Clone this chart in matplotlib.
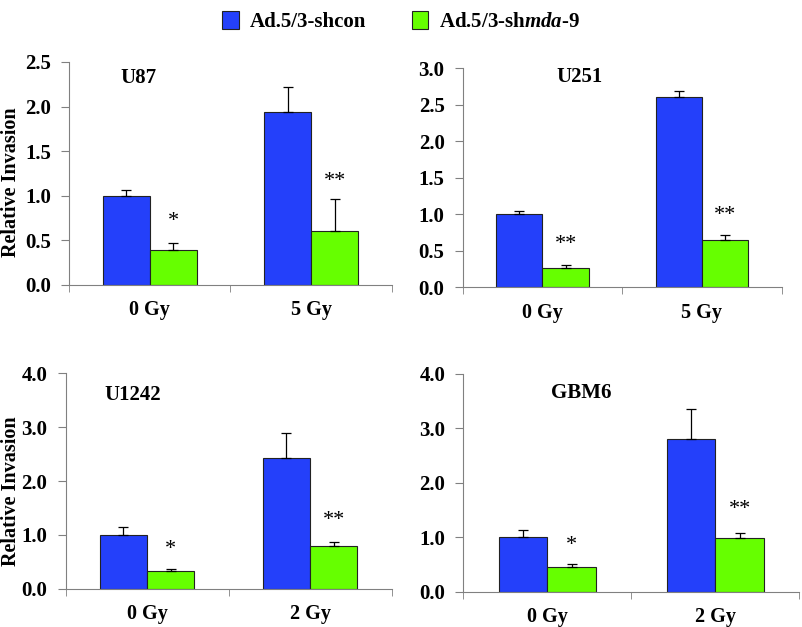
import matplotlib
matplotlib.use('Agg')
import matplotlib.pyplot as plt
import numpy as np

plt.rcParams['font.family'] = 'Liberation Serif'
plt.rcParams['font.weight'] = 'bold'
plt.rcParams['axes.labelweight'] = 'bold'
plt.rcParams['mathtext.fontset'] = 'custom'
plt.rcParams['mathtext.it'] = 'Liberation Serif:bold:italic'
plt.rcParams['mathtext.rm'] = 'Liberation Serif:bold'

# data
cell_lines = ['U87', 'U251', 'U1242', 'GBM6']
doses = [['0 Gy', '5 Gy'], ['0 Gy', '5 Gy'], ['0 Gy', '2 Gy'], ['0 Gy', '2 Gy']]
shcon = [[1.00, 1.94], [1.00, 2.60], [1.00, 2.43], [1.00, 2.81]]
shcon_err = [[0.07, 0.28], [0.05, 0.09], [0.14, 0.46], [0.13, 0.54]]
shmda9 = [[0.39, 0.60], [0.27, 0.65], [0.33, 0.79], [0.45, 0.98]]
shmda9_err = [[0.08, 0.36], [0.04, 0.06], [0.04, 0.07], [0.05, 0.09]]
stars = [['*', '**'], ['**', '**'], ['*', '**'], ['*', '**']]
star_y = [[0.71, 1.16], [0.58, 0.98], [0.72, 1.26], [0.84, 1.50]]
ylims = [2.5, 3.0, 4.0, 4.0]
ystep = [0.5, 0.5, 1.0, 1.0]
title_y = [2.32, 2.88, 3.6, 3.64]
title_x = [-0.07, 0.235, -0.086, 0.20]

blue = '#2440FA'
green = '#66FF00'

fig = plt.figure(figsize=(8.02, 6.27), dpi=100)
positions = [[0.0860, 0.5455, 0.4028, 0.3557],
             [0.5769, 0.5418, 0.3978, 0.3493],
             [0.0817, 0.0611, 0.4065, 0.3434],
             [0.5777, 0.0563, 0.4190, 0.3477]]
label_xy = [(-0.150, 0.46), None, (-0.138, 0.455), None]

w = 0.29
handles = None
for i, pos in enumerate(positions):
    ax = fig.add_axes(pos)
    x = np.arange(2)
    b1 = ax.bar(x - w / 2, shcon[i], w, color=blue, edgecolor='#222222', linewidth=0.8,
                yerr=[[0, 0], shcon_err[i]], capsize=3.5,
                error_kw=dict(elinewidth=0.9, capthick=0.9, ecolor='black'))
    b2 = ax.bar(x + w / 2, shmda9[i], w, color=green, edgecolor='#222222', linewidth=0.8,
                yerr=[[0, 0], shmda9_err[i]], capsize=3.5,
                error_kw=dict(elinewidth=0.9, capthick=0.9, ecolor='black'))
    handles = [b1, b2]
    for j in range(2):
        ax.text(x[j] + w / 2, star_y[i][j], stars[i][j], ha='center', va='center',
                fontsize=16, fontweight='normal')
    ax.text(title_x[i], title_y[i], cell_lines[i], ha='center', va='center', fontsize=15)
    ax.set_xlim(-0.5, 1.5)
    ax.set_ylim(0, ylims[i])
    ax.set_yticks(np.arange(0, ylims[i] + 0.01, ystep[i]))
    ax.yaxis.set_major_formatter(matplotlib.ticker.FormatStrFormatter('%.1f'))
    ax.set_xticks(x)
    ax.set_xticklabels(doses[i])
    ax.set_xticks([-0.5, 0.5, 1.5], minor=True)
    ax.tick_params(axis='x', which='major', length=0, pad=11, labelsize=14.5)
    ax.tick_params(axis='x', which='minor', length=5, color='#808080', direction='out')
    ax.tick_params(axis='y', length=6, color='#808080', pad=7, labelsize=15)
    for s in ['top', 'right']:
        ax.spines[s].set_visible(False)
    for s in ['left', 'bottom']:
        ax.spines[s].set_color('#808080')
    if label_xy[i] is not None:
        ax.set_ylabel('Relative Invasion', fontsize=14.5)
        ax.yaxis.set_label_coords(*label_xy[i])

fig.legend(handles, ['Ad.5/3-shcon', r'Ad.5/3-sh$\mathit{mda}$-$\mathit{9}$'],
           loc='upper center', bbox_to_anchor=(0.5, 1.012), ncol=2, frameon=False,
           fontsize=15, handlelength=0.8, handleheight=0.9, columnspacing=2.2,
           handletextpad=0.5)

fig.savefig('out.png', dpi=100)
